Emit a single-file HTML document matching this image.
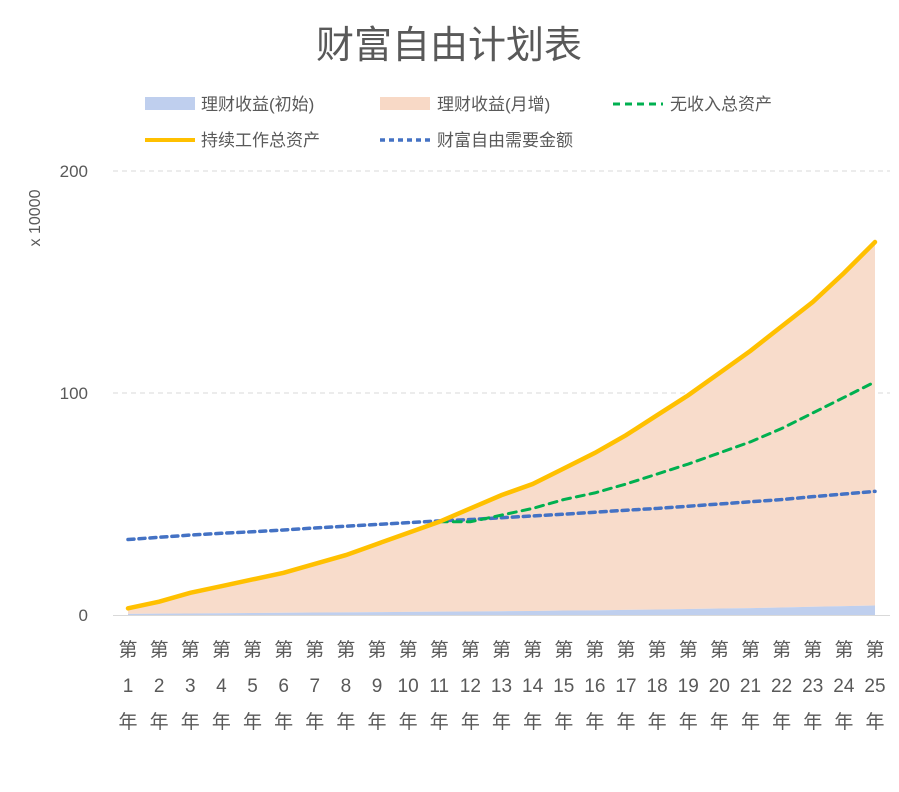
<!DOCTYPE html>
<html><head><meta charset="utf-8">
<style>
body{margin:0;background:#fff;font-family:"Liberation Sans","Noto Sans CJK SC",sans-serif;}
svg text{font-family:"Liberation Sans","Noto Sans CJK SC",sans-serif;fill:#595959;}
</style></head>
<body>
<svg id="chart" width="899" height="787">
<text x="449" y="58" font-size="38" text-anchor="middle" style="fill:#595959">财富自由计划表</text>
<g font-size="17">
<rect x="145" y="97" width="50" height="13" fill="#bfcfee"/>
<text x="201" y="110">理财收益(初始)</text>
<rect x="380" y="97" width="50" height="13" fill="#f8d9c6"/>
<text x="437" y="110">理财收益(月增)</text>
<line x1="613" y1="104" x2="663" y2="104" stroke="#00b050" stroke-width="3" stroke-dasharray="7,5"/>
<text x="670" y="110">无收入总资产</text>
<line x1="145" y1="140" x2="195" y2="140" stroke="#ffc000" stroke-width="4"/>
<text x="201" y="146">持续工作总资产</text>
<line x1="380" y1="140" x2="430" y2="140" stroke="#4472c4" stroke-width="3.5" stroke-dasharray="5,4"/>
<text x="437" y="146">财富自由需要金额</text>
</g>
<text transform="translate(40,218) rotate(-90)" font-size="16" text-anchor="middle">x 10000</text>
<g id="plot"></g>
</svg>
<script>
const categories=[1,2,3,4,5,6,7,8,9,10,11,12,13,14,15,16,17,18,19,20,21,22,23,24,25];
const initialGain=[0.5,0.6,0.7,0.8,0.9,1.0,1.1,1.2,1.3,1.4,1.5,1.6,1.7,1.8,2.0,2.1,2.3,2.5,2.7,2.9,3.1,3.4,3.7,4.0,4.3];
const monthlyGain=[2.5,5.4,9.3,12.2,15.1,18,21.9,25.8,30.7,35.6,40.5,46.4,52.3,57.2,64,70.9,78.7,87.5,96.3,106.1,115.9,126.6,137.3,150,163.7];
const workingTotal=[3,6,10,13,16,19,23,27,32,37,42,48,54,59,66,73,81,90,99,109,119,130,141,154,168];
const noIncomeTotal=[null,null,null,null,null,null,null,null,null,null,42,42,45,48,52,55,59,63.5,68,73,78,84,91,98,105];
const freedomNeed=[34,35,36,36.8,37.5,38.3,39.2,40,40.8,41.6,42.4,43,43.8,44.6,45.4,46.3,47.2,48,49,50,51,52,53.3,54.5,55.7];
const yTicks=[0,100,200];
const NS="http://www.w3.org/2000/svg";
const plotG=document.getElementById('plot');
const xs=i=>128+i*(875-128)/(categories.length-1);
const ys=v=>615-v*2.22;
function mk(t,a){const e=document.createElementNS(NS,t);for(const k in a)e.setAttribute(k,a[k]);plotG.appendChild(e);return e;}
yTicks.forEach(t=>{
 if(t>0){const l=mk('line',{x1:113,x2:890,y1:ys(t),y2:ys(t),stroke:'#d9d9d9','stroke-width':1,'stroke-dasharray':'5,4'});
 
 }
 const tx=mk('text',{x:88,y:ys(t)+6,'font-size':17,'text-anchor':'end'});tx.textContent=t;
 
 
});
const zeroBase=initialGain.map(()=>0);
const stackTop=initialGain.map((v,i)=>v+monthlyGain[i]);
function area(lo,hi,fill,name){
 let d='';
 hi.forEach((v,i)=>d+=(i?' L':'M')+xs(i)+','+ys(v));
 for(let i=lo.length-1;i>=0;i--)d+=' L'+xs(i)+','+ys(lo[i]);
 const p=mk('path',{d:d+'Z',fill:fill});
 
 
}
area(initialGain,stackTop,'#f8dccb','area-monthly-gain');
area(zeroBase,initialGain,'#bfcfee','area-initial-gain');
const ax=mk('line',{x1:113,x2:890,y1:615.5,y2:615.5,stroke:'#d9d9d9','stroke-width':1});


function line(arr,stroke,w,dash,name){
 let d='';arr.forEach((v,i)=>{if(v==null)return;d+=(d?' L':'M')+xs(i)+','+ys(v);});
 const p=mk('path',{d:d,fill:'none',stroke:stroke,'stroke-width':w,'stroke-dasharray':dash,'stroke-linecap':'round'});
 
 
}
line(freedomNeed,'#4472c4',3.5,'6,5','line-freedom-need');
line(noIncomeTotal,'#00b050',3,'8,6','line-no-income-total');
line(workingTotal,'#ffc000',4.5,'none','line-working-total');
categories.forEach((c,i)=>{
 [['第',656],[String(c),692],['年',728]].forEach(([s,yy],k)=>{
  const t=mk('text',{x:xs(i),y:yy,'font-size':19,'text-anchor':'middle'});t.textContent=s;
  
  
 });
});
</script>
</body></html>
